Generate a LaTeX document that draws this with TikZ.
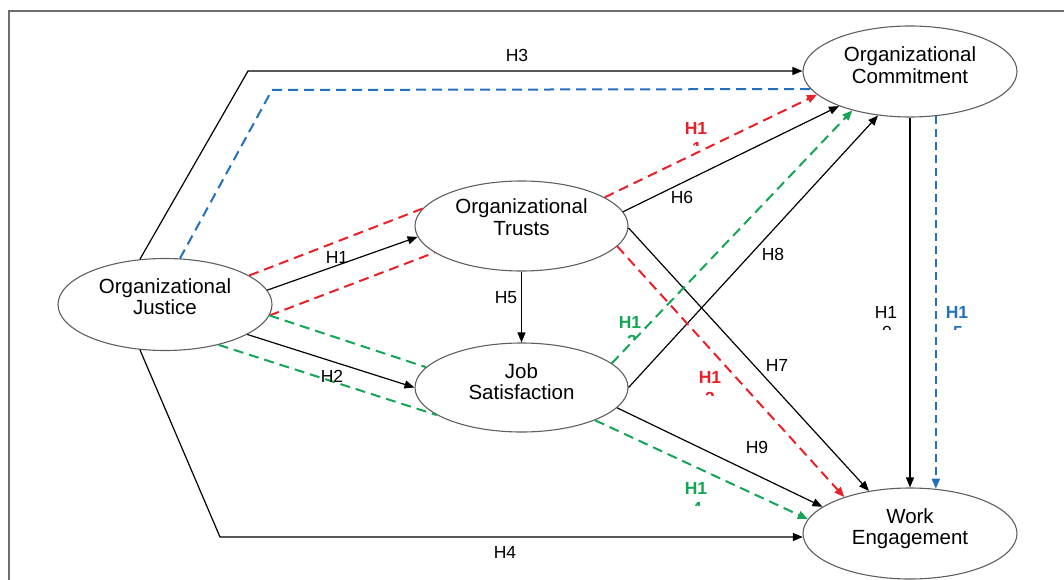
\documentclass[tikz,border=0pt]{standalone}
\usepackage{fontspec}
\setmainfont{Liberation Sans}
\usetikzlibrary{shapes.geometric,arrows.meta}
\definecolor{hred}{RGB}{232,32,40}
\definecolor{hgreen}{RGB}{20,165,85}
\definecolor{hblue}{RGB}{35,112,190}
\definecolor{ellgray}{RGB}{95,95,95}
\definecolor{framegray}{RGB}{110,110,110}
\newcommand\cutdig[6]{%
  \begin{scope}
    \clip (#2-8,#3-1) rectangle (#2+8,#3+3.5);
    \node[lbl, text=#1, font=\fontsize{17.5}{19}\selectfont#6, anchor=north, inner sep=0pt] (#5) at (#2,#3) {#4};
  \end{scope}}
\begin{document}
\begin{tikzpicture}[x=1pt,y=-1pt,
  var/.style={ellipse, draw=ellgray, line width=1.1pt, fill=white, minimum width=214pt, minimum height=91pt, inner sep=0pt},
  vtext/.style={align=center, inner sep=0pt, font=\fontsize{20.5}{21.5}\selectfont},
  lbl/.style={inner sep=0pt, font=\fontsize{17.5}{19}\selectfont},
  blbl/.style={inner sep=0pt, font=\fontsize{17.5}{19}\selectfont\bfseries},
  tip/.style={-{Triangle[length=10pt,width=8pt]}},
  link/.style={line width=1.2pt, tip},
  rdash/.style={hred, line width=2pt, dash pattern=on 10pt off 6pt},
  gdash/.style={hgreen, line width=2pt, dash pattern=on 10pt off 6pt},
  bdash/.style={hblue, line width=2pt, dash pattern=on 10pt off 6pt},
  bdashv/.style={hblue, line width=2pt, dash pattern=on 8pt off 5pt},
]
\useasboundingbox (0,0) rectangle (1064,580);
\draw[framegray, line width=1.3pt] (9,580) -- (9,11) -- (1064,11);

% variables
\node[var, minimum height=92pt] (oj) at (165,304.5) {};
\node[var, minimum width=213pt, minimum height=90pt] (ot) at (521.5,226) {};
\node[var, minimum width=213pt, minimum height=89pt] (js) at (521.5,387.5) {};
\node[var] (oc) at (910,71.5) {};
\node[var] (we) at (910,533.5) {};
\node[vtext] (ojt) at (165,296.7) {Organizational\\Justice};
\node[vtext] (ott) at (521.5,217.2) {Organizational\\Trusts};
\node[vtext] (jst) at (521.5,381.7) {Job\\Satisfaction};
\node[vtext] (oct) at (910,65.2) {Organizational\\Commitment};
\node[vtext] (wet) at (910,528.8) {Work\\Engagement};

% coordinates for bends
\coordinate (h3c) at (248,71);
\coordinate (h4c) at (220,537);
\coordinate (bc) at (272,90);

% outer paths
\draw[link] (oj.119) -- (h3c) -- (oc.west |- h3c);
\draw[link] (oj.241) -- (h4c) -- (we.182 |- h4c);
\draw[bdash] (oj.72) -- (bc) -- (oc.190.7);

% direct paths
\draw[link] (oj.8) -- (ot.186);
\draw[link] (oj.-20) -- (js.180);
\draw[link] (ot.south) -- (js.north);
\draw[link] (ot.8.5) -- (oc.206.6);
\draw[link] (ot.-1) -- (we.134.3);
\draw[link] (js.0) -- (oc.234);
\draw[link] (js.-12) -- (we.163.7);
\draw[link] (oc.south) -- (oc.south |- we.north);

% mediated paths
\draw[rdash] (oj.19) -- (ot.170.5);
\draw[rdash] (oj.-6) -- (ot.197);
\draw[gdash] (oj.-6.5) -- (js.168.8);
\draw[gdash] (oj.-37.6) -- (js.198.6);
\draw[rdash, tip] (ot.19.8) -- (oc.194.3);
\draw[rdash, tip] (ot.-12.9) -- (we.151);
\draw[gdash, tip] (js.15.1) -- (oc.214.9);
\draw[gdash, tip] (js.-24.3) -- (we.172.7);
\draw[bdashv, tip] (oc.-60.5) -- (oc.-60.5 |- we.61);

% labels
\node[lbl] (l3) at (517,55) {H3};
\node[lbl] (l4) at (505,552) {H4};
\node[lbl] (l1) at (337,257) {H1};
\node[lbl] (l2) at (332,376) {H2};
\node[lbl] (l5) at (506,298) {H5};
\node[lbl] (l6) at (682,197) {H6};
\node[lbl] (l7) at (777,365) {H7};
\node[lbl] (l8) at (773,254) {H8};
\node[lbl] (l9) at (757,447) {H9};
\node[lbl] (l10) at (886,312) {H1};
\cutdig{black}{887}{326}{0}{d10}{}
\node[blbl, text=hred] (l11) at (696,128) {H1};
\cutdig{hred}{697}{142}{1}{d11}{\bfseries}
\node[blbl, text=hgreen] (l12) at (630,322) {H1};
\cutdig{hgreen}{632}{335}{2}{d12}{\bfseries}
\node[blbl, text=hred] (l13) at (710,377) {H1};
\cutdig{hred}{710}{392}{3}{d13}{\bfseries}
\node[blbl, text=hgreen] (l14) at (696,488) {H1};
\cutdig{hgreen}{697}{502}{4}{d14}{\bfseries}
\node[blbl, text=hblue] (l15) at (957,312) {H1};
\cutdig{hblue}{958}{326}{5}{d15}{\bfseries}
\end{tikzpicture}
\end{document}
